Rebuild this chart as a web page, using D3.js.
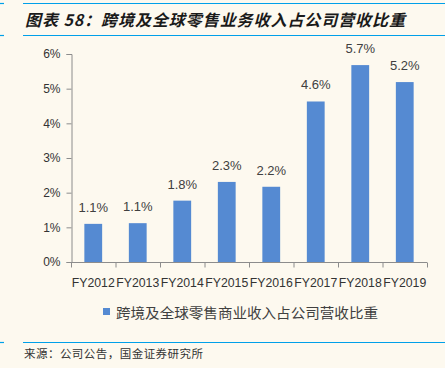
<!DOCTYPE html>
<html><head><meta charset="utf-8">
<script src="https://cdn.jsdelivr.net/npm/d3@7"></script>
<style>
html,body{margin:0;padding:0;background:#FDF9EF;}
svg{display:block;}
</style></head>
<body>
<script>
const categories = ["FY2012","FY2013","FY2014","FY2015","FY2016","FY2017","FY2018","FY2019"];
const values = [1.10, 1.12, 1.77, 2.31, 2.17, 4.63, 5.68, 5.19];
const labels = ["1.1%","1.1%","1.8%","2.3%","2.2%","4.6%","5.7%","5.2%"];
const yTicks = [0,1,2,3,4,5,6];
const seriesName = "跨境及全球零售商业收入占公司营收比重";
const titleText = "图表 58：跨境及全球零售业务收入占公司营收比重";
const sourceText = "来源：公司公告，国金证券研究所";

const W = 445, H = 368;
const svg = d3.select("body").append("svg").attr("width", W).attr("height", H);
svg.append("rect").attr("width", W).attr("height", H).attr("fill", "#FDF9EF");

const blue = "#00A0E9";
// top rules
svg.append("line").attr("x1",0).attr("x2",4).attr("y1",3.5).attr("y2",3.5).attr("stroke",blue).attr("stroke-width",1.2);
svg.append("line").attr("x1",23).attr("x2",W).attr("y1",3.5).attr("y2",3.5).attr("stroke",blue).attr("stroke-width",1.2);
svg.append("line").attr("x1",0).attr("x2",4).attr("y1",35.5).attr("y2",35.5).attr("stroke",blue).attr("stroke-width",1.2);
svg.append("line").attr("x1",23).attr("x2",W).attr("y1",35.5).attr("y2",35.5).attr("stroke",blue).attr("stroke-width",1.2);
svg.append("text").attr("x",25).attr("y",26)
  .attr("font-family","'Noto Sans CJK SC'").attr("font-weight","bold").attr("font-style","italic")
  .attr("font-size",16).attr("fill","#1a1a1a")
  .attr("textLength",380).attr("lengthAdjust","spacing")
  .text(titleText);

// bottom rule + source
svg.append("line").attr("x1",0).attr("x2",4).attr("y1",342.5).attr("y2",342.5).attr("stroke",blue).attr("stroke-width",1.2);
svg.append("line").attr("x1",23).attr("x2",W).attr("y1",342.5).attr("y2",342.5).attr("stroke",blue).attr("stroke-width",1.2);
svg.append("text").attr("x",24).attr("y",358)
  .attr("font-family","'Noto Sans CJK SC'").attr("font-size",11.5).attr("fill","#333")
  .attr("textLength",179).attr("lengthAdjust","spacing")
  .text(sourceText);

const x = d3.scaleBand().domain(categories).range([71, 427]).paddingInner(0.6).paddingOuter(0.3);
const xb = d3.scaleBand().domain(categories).range([71, 427]);
const y = d3.scaleLinear().domain([0, 6]).range([262, 54]);

const axisColor = "#8c8c8c";
const font = "'Liberation Sans', Arial, sans-serif";

// y axis
const yAxis = svg.append("g").attr("transform","translate(71.5,0)")
  .call(d3.axisLeft(y).tickValues(yTicks).tickSize(5).tickPadding(6).tickFormat(d => d + "%"));
yAxis.select(".domain").attr("stroke",axisColor);
yAxis.selectAll(".tick line").attr("stroke",axisColor);
yAxis.selectAll(".tick text").attr("font-family",font).attr("font-size",12).attr("fill","#333");

// bars
svg.append("g").selectAll("rect").data(values).join("rect")
  .attr("x",(d,i)=>x(categories[i]))
  .attr("width",x.bandwidth())
  .attr("y",d=>y(d))
  .attr("height",d=>y(0)-y(d))
  .attr("fill","#558AD2");

// value labels
svg.append("g").selectAll("text").data(values).join("text")
  .attr("x",(d,i)=>x(categories[i]) + x.bandwidth()/2)
  .attr("y",d=>y(d)-12)
  .attr("text-anchor","middle")
  .attr("font-family",font).attr("font-size",13).attr("fill","#404040")
  .text((d,i)=>labels[i]);

// x axis
const xg = svg.append("g").attr("transform","translate(0,262.5)");
xg.append("line").attr("x1",71).attr("x2",427).attr("stroke",axisColor);
const bounds = categories.map(c => xb(c)).concat([427]);
xg.selectAll("line.tk").data(bounds).join("line").attr("class","tk")
  .attr("x1",d=>d+0.5).attr("x2",d=>d+0.5).attr("y1",0).attr("y2",5).attr("stroke",axisColor);
xg.selectAll("text").data(categories).join("text")
  .attr("x",d=>xb(d)+xb.bandwidth()/2).attr("y",24)
  .attr("text-anchor","middle")
  .attr("font-family",font).attr("font-size",12).attr("fill","#333")
  .attr("textLength",43).attr("lengthAdjust","spacingAndGlyphs")
  .text(d=>d);

// legend
svg.append("rect").attr("x",103).attr("y",308).attr("width",7).attr("height",7).attr("fill","#558AD2");
svg.append("text").attr("x",116).attr("y",317.5)
  .attr("font-family","'Noto Sans CJK SC'").attr("font-size",14).attr("fill","#404040")
  .attr("textLength",262).attr("lengthAdjust","spacingAndGlyphs")
  .text(seriesName);
</script>
</body></html>
